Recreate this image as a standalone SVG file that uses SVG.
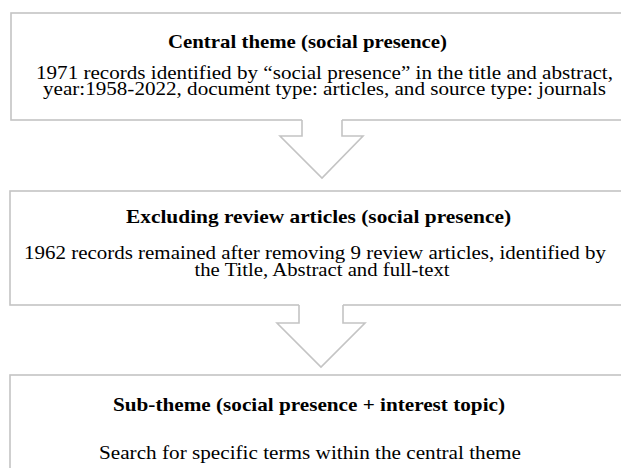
<svg xmlns="http://www.w3.org/2000/svg" width="621" height="468" viewBox="0 0 621 468">
<style>
.box{fill:#ffffff;stroke:#c4c4c4;stroke-width:1.6}
.arrowfill{fill:#ffffff;stroke:none}
.arrowline{fill:none;stroke:#c4c4c4;stroke-width:1.6;stroke-linejoin:miter}
text{font-family:"Liberation Serif","Times New Roman",serif;font-size:19px;fill:#000000;text-anchor:middle}
.title{font-weight:bold;font-size:19.5px}
</style>
<rect width="621" height="468" fill="#ffffff"/>
<g id="node-central">
<rect class="box" x="11" y="13" width="620" height="107"/>
<text class="title" x="307.5" y="48" textLength="279" lengthAdjust="spacingAndGlyphs">Central theme (social presence)</text>
<text x="324.5" y="79" textLength="577" lengthAdjust="spacingAndGlyphs">1971 records identified by “social presence” in the title and abstract,</text>
<text x="324.5" y="95" textLength="563" lengthAdjust="spacingAndGlyphs">year:1958-2022, document type: articles, and source type: journals</text>
</g>
<g id="node-excluding">
<rect class="box" x="10" y="191" width="621" height="114"/>
<text class="title" x="318.5" y="223" textLength="385" lengthAdjust="spacingAndGlyphs">Excluding review articles (social presence)</text>
<text x="315" y="259" textLength="582" lengthAdjust="spacingAndGlyphs">1962 records remained after removing 9 review articles, identified by</text>
<text x="322" y="276" textLength="255" lengthAdjust="spacingAndGlyphs">the Title, Abstract and full-text</text>
</g>
<g id="node-subtheme">
<rect class="box" x="10" y="375" width="621" height="110"/>
<text class="title" x="309" y="411" textLength="392" lengthAdjust="spacingAndGlyphs">Sub-theme (social presence + interest topic)</text>
<text x="310" y="459" textLength="422" lengthAdjust="spacingAndGlyphs">Search for specific terms within the central theme</text>
</g>
<g id="connectors">
<polygon class="arrowfill" points="302,118 342,118 342,136 363,136 322,178 280,136 302,136"/>
<polyline class="arrowline" points="302,120 302,136 280,136 322,178 363,136 342,136 342,120"/>
<polygon class="arrowfill" points="299,303 343,303 343,323 365,323 321,367 277,323 299,323"/>
<polyline class="arrowline" points="299,305 299,323 277,323 321,367 365,323 343,323 343,305"/>
</g>
</svg>
